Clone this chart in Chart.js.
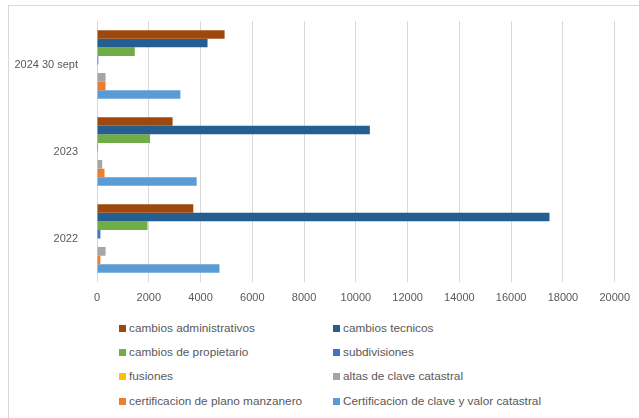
<!DOCTYPE html>
<html>
<head>
<meta charset="utf-8">
<script src="https://cdn.jsdelivr.net/npm/chart.js@4/dist/chart.umd.min.js"></script>
<style>
  body { margin: 0; background: #fff; }
  #wrap { position: relative; width: 639px; height: 418px; overflow: hidden; font-family: "Liberation Sans", Arial, sans-serif; }
  #frame { position: absolute; left: 8px; top: 5px; width: 700px; height: 500px; border-left: 1px solid #d9d9d9; border-top: 1px solid #d9d9d9; }
  #chartBox { position: absolute; left: 0; top: 0; width: 639px; height: 310px; }
  .lg { position: absolute; font-size: 11.8px; color: #595959; white-space: nowrap; line-height: 12px; }
  .lg span { display: inline-block; width: 7px; height: 7px; margin-right: 3px; vertical-align: 0px; }
</style>
</head>
<body>
<div id="wrap">
  <div id="frame"></div>
  <div id="chartBox"><canvas id="barChart" width="639" height="310"></canvas></div>
  <div id="legend"></div>
</div>
<script>
// periodos (de arriba hacia abajo)
var periodos = ['2024 30 sept', '2023', '2022'];
var xTicks = [0, 2000, 4000, 6000, 8000, 10000, 12000, 14000, 16000, 18000, 20000];

var cambiosAdministrativos = [4930, 2920, 3720];
var cambiosTecnicos = [4270, 10540, 17480];
var cambiosPropietario = [1460, 2050, 1950];
var subdivisiones = [50, 40, 130];
var fusiones = [30, 30, 30];
var altasClave = [330, 200, 330];
var certPlano = [330, 290, 130];
var certClaveValor = [3220, 3850, 4730];

var series = [
  { label: 'cambios administrativos', data: cambiosAdministrativos, color: '#9E480E' },
  { label: 'cambios tecnicos', data: cambiosTecnicos, color: '#255E91' },
  { label: 'cambios de propietario', data: cambiosPropietario, color: '#70AD47' },
  { label: 'subdivisiones', data: subdivisiones, color: '#4472C4' },
  { label: 'fusiones', data: fusiones, color: '#FFC000' },
  { label: 'altas de clave catastral', data: altasClave, color: '#A5A5A5' },
  { label: 'certificacion de plano manzanero', data: certPlano, color: '#ED7D31' },
  { label: 'Certificacion de clave y valor catastral', data: certClaveValor, color: '#5B9BD5' }
];

var ctx = document.getElementById('barChart');
var barChart = new Chart(ctx, {
  type: 'bar',
  data: {
    labels: periodos,
    datasets: series.map(function (s) {
      return {
        label: s.label,
        data: s.data,
        backgroundColor: s.color,
        borderWidth: 0,
        categoryPercentage: 0.79,
        barPercentage: 1
      };
    })
  },
  options: {
    indexAxis: 'y',
    responsive: false,
    animation: false,
    layout: { padding: { top: 21, right: 21, left: 0, bottom: 0 } },
    plugins: {
      legend: { display: false },
      tooltip: { enabled: false }
    },
    scales: {
      x: {
        min: 0,
        max: 20000,
        afterBuildTicks: function (scale) {
          scale.ticks = xTicks.map(function (v) { return { value: v }; });
        },
        afterFit: function (scale) { scale.height = 28; },
        grid: { color: '#d9d9d9', lineWidth: 1, drawTicks: false },
        border: { display: false },
        ticks: {
          padding: 9,
          color: '#595959',
          font: { family: 'Liberation Sans', size: 11 },
          maxRotation: 0,
          callback: function (v) { return String(v); }
        }
      },
      y: {
        afterFit: function (scale) { scale.width = 97; },
        grid: { display: false },
        border: { display: false },
        ticks: {
          padding: 11,
          color: '#595959',
          font: { family: 'Liberation Sans', size: 11 }
        }
      }
    }
  }
});

// leyenda en dos columnas
var legendBox = document.getElementById('legend');
var colX = [119, 333];
var rowY = [322, 346, 370, 395];
barChart.data.datasets.forEach(function (ds, i) {
  var item = document.createElement('div');
  item.className = 'lg';
  item.style.left = colX[i % 2] + 'px';
  item.style.top = rowY[Math.floor(i / 2)] + 'px';
  item.innerHTML = '<span style="background:' + ds.backgroundColor + '"></span>' + ds.label;
  legendBox.appendChild(item);
});
</script>
</body>
</html>
